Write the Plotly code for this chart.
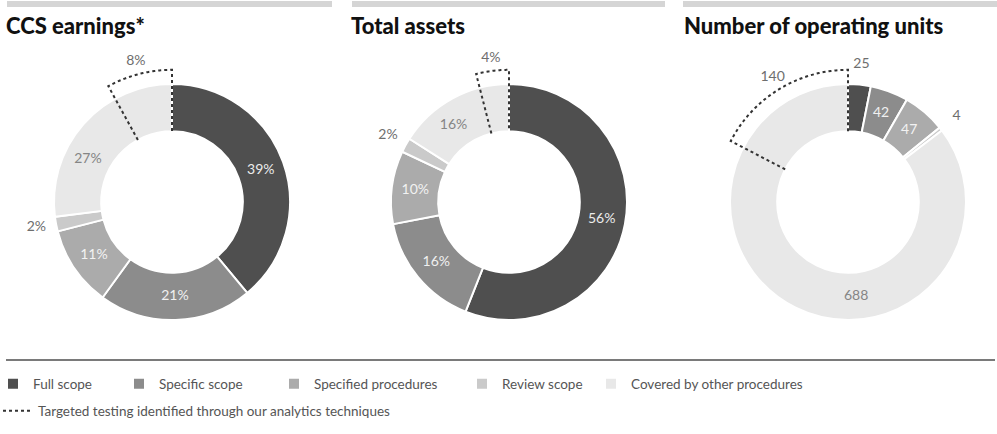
import numpy as np
import plotly.graph_objects as go

# ---------------- data ----------------
categories = ["Full scope", "Specific scope", "Specified procedures",
              "Review scope", "Covered by other procedures"]
targeted_name = "Targeted testing identified through our analytics techniques"

titles = ["CCS earnings*", "Total assets", "Number of operating units"]
ccs_earnings = [39, 21, 11, 2, 27]
total_assets = [56, 16, 10, 2, 16]
operating_units = [25, 42, 47, 4, 688]
# subset of "Covered by other procedures" targeted through analytics
targeted = [8, 4, 140]
label_suffix = ["%", "%", ""]

series = [ccs_earnings, total_assets, operating_units]

# ---------------- style ----------------
W, H = 997, 434
colors = ["#4f4f4f", "#8c8c8c", "#ababab", "#cacaca", "#e8e8e8"]
inside_text_colors = ["#ececec", "#f0f0f0", "#f2f2f2", "#777777", "#858585"]
outside_text_color = "#6e6e6e"
FONT = "Lato"

centers_px = [172, 509, 848]
cy_px = 202
ring_px = 118
HOLE = 0.6
R_MAX = 1.25
DASH_R = 1.12
IN_R = 0.8
OUT_R = 1.17
TGT_R = 1.23

fig = go.Figure()

legend_widths = [88, 117, 150, 91, 220]

for i, vals in enumerate(series):
    sub = "polar" if i == 0 else f"polar{i + 1}"
    total = float(sum(vals))
    spans = [v / total * 360.0 for v in vals]
    starts = np.concatenate([[0.0], np.cumsum(spans)[:-1]])

    # ring segments
    for k, cat in enumerate(categories):
        fig.add_trace(go.Barpolar(
            r=[1 - HOLE], base=[HOLE], theta=[starts[k] + spans[k] / 2],
            width=[spans[k]], name=cat, legendgroup=cat,
            showlegend=(i == 0), legendwidth=legend_widths[k],
            marker=dict(color=colors[k], line=dict(color="white", width=2)),
            subplot=sub, hoverinfo="skip"))

    # targeted wedge (dashed outline)
    t_span = targeted[i] / total * 360.0
    t_start = 360.0 - t_span
    arc = np.linspace(t_start, 360.0, 60)
    fig.add_trace(go.Scatterpolar(
        r=[HOLE, DASH_R] + [DASH_R] * len(arc) + [DASH_R, HOLE],
        theta=[t_start, t_start] + list(arc) + [360.0, 360.0],
        mode="lines", line=dict(color="#333333", width=2, dash="3px,3px"),
        name=targeted_name, legend="legend2", showlegend=(i == 0),
        subplot=sub, hoverinfo="skip"))

    # labels
    rs, ths, txt, tcol = [], [], [], []
    for k in range(len(categories)):
        if k == len(categories) - 1:
            mid = starts[k] + (spans[k] - t_span) / 2
        else:
            mid = starts[k] + spans[k] / 2
        inside = spans[k] > 15
        rs.append(IN_R if inside else OUT_R)
        ths.append(mid)
        txt.append(f"{vals[k]}{label_suffix[i]}")
        tcol.append(inside_text_colors[k] if inside else outside_text_color)
    rs.append(TGT_R)
    ths.append(360.0 - t_span / 2)
    txt.append(f"{targeted[i]}{label_suffix[i]}")
    tcol.append(outside_text_color)
    fig.add_trace(go.Scatterpolar(
        r=rs, theta=ths, text=txt, mode="text",
        textfont=dict(family=FONT, size=14, color=tcol),
        showlegend=False, subplot=sub, hoverinfo="skip", cliponaxis=False))

    # polar layout
    cx = centers_px[i]
    rad = ring_px * R_MAX
    fig.layout[sub] = dict(
        domain=dict(x=[(cx - rad) / W, (cx + rad) / W],
                    y=[(H - cy_px - rad) / H, (H - cy_px + rad) / H]),
        bgcolor="rgba(0,0,0,0)", barmode="overlay",
        radialaxis=dict(visible=False, range=[0, R_MAX]),
        angularaxis=dict(visible=False, direction="clockwise", rotation=90))

# titles and header bars
title_x = [4, 349, 682]
bar_spans = [(7, 332), (352, 665), (683, 997)]
shapes = []
annotations = []
for i, t in enumerate(titles):
    annotations.append(dict(
        text=t, x=title_x[i] / W, y=1 - 25 / H, xref="paper", yref="paper",
        xanchor="left", yanchor="middle", showarrow=False,
        font=dict(family=FONT, size=22, color="#111111", weight=900)))
    x0, x1 = bar_spans[i]
    shapes.append(dict(type="rect", xref="paper", yref="paper",
                       x0=x0 / W, x1=x1 / W, y0=1 - 7 / H, y1=1 - 1 / H,
                       fillcolor="#d5d5d5", line=dict(width=0)))
shapes.append(dict(type="line", xref="paper", yref="paper",
                   x0=6 / W, x1=995 / W, y0=1 - 360 / H, y1=1 - 360 / H,
                   line=dict(color="#7a7a7a", width=2)))

fig.update_layout(
    width=W, height=H,
    margin=dict(l=0, r=0, t=0, b=0, autoexpand=False),
    paper_bgcolor="white", plot_bgcolor="white",
    shapes=shapes, annotations=annotations,
    legend=dict(orientation="h", x=0, xanchor="left", indentation=-7,
                y=1 - 384 / H, yanchor="middle", traceorder="normal",
                font=dict(family=FONT, size=13.5, color="#555555"),
                bgcolor="rgba(0,0,0,0)"),
    legend2=dict(orientation="h", x=0, xanchor="left", indentation=-2,
                 y=1 - 411 / H, yanchor="middle",
                 font=dict(family=FONT, size=13.5, color="#555555"),
                 bgcolor="rgba(0,0,0,0)"),
)

fig.write_html("out.html", config={"displayModeBar": False},
               post_script="document.body.style.margin='0';document.body.style.overflow='hidden';")
